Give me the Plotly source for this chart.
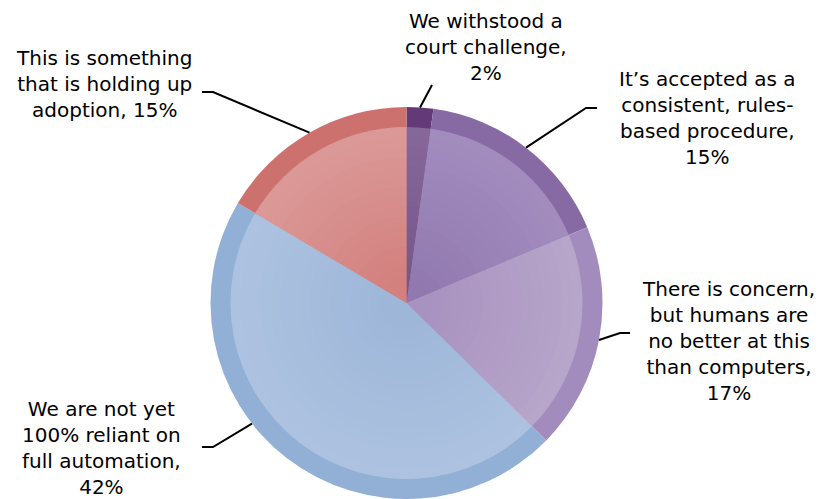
import math
import plotly.graph_objects as go

# Survey answers, clockwise from 12 o'clock
categories = [
    "We withstood a court challenge",
    "It\u2019s accepted as a consistent, rules-based procedure",
    "There is concern, but humans are no better at this than computers",
    "We are not yet 100% reliant on full automation",
    "This is something that is holding up adoption",
]
values = [2, 15, 17, 42, 15]

# Label text, one list of lines per slice
label_lines = [
    ["We withstood a", "court challenge,", "2%"],
    ["It\u2019s accepted as a", "consistent, rules-", "based procedure,", "15%"],
    ["There is concern,", "but humans are", "no better at this", "than computers,", "17%"],
    ["We are not yet", "100% reliant on", "full automation,", "42%"],
    ["This is something", "that is holding up", "adoption, 15%"],
]

rim_colors = ["#633A77", "#8769A3", "#A18CBD", "#92B0D6", "#CD716F"]
# face shading: colour at the face edge and at the centre of each slice
face_edge = ["#86679A", "#A28CBE", "#B7A5CA", "#ADC2E0", "#DA9997"]
face_core = ["#775788", "#9179AF", "#A892BF", "#9EB7D9", "#D3807E"]

W, H = 822, 499
CX, CY = 406.5, 303.0      # pie centre in pixels
R_OUT, R_IN = 196.0, 176.0
N_SHADES = 16


def px(x):
    return x / W


def py(y):
    return 1 - y / H


def hex_rgb(h):
    return tuple(int(h[i:i + 2], 16) for i in (1, 3, 5))


def mix(a, b, t):
    ra, rb = hex_rgb(a), hex_rgb(b)
    return "rgb({},{},{})".format(*[round(x + (y - x) * t) for x, y in zip(ra, rb)])


def pie_layer(colors, r):
    return go.Pie(
        labels=categories, values=values, sort=False, direction="clockwise",
        rotation=0, marker=dict(colors=colors, line=dict(width=0)),
        textinfo="none", hoverinfo="skip", showlegend=False,
        domain=dict(x=[px(CX - r), px(CX + r)], y=[max(0.0, py(CY + r)), py(CY - r)]),
    )


fig = go.Figure()

# darker rim (full disc), then lighter face discs shading toward the centre
fig.add_trace(pie_layer(rim_colors, R_OUT))
for j in range(N_SHADES):
    t = j / (N_SHADES - 1)
    r = R_IN * (1 - 0.85 * t)
    fig.add_trace(pie_layer([mix(e, c, t) for e, c in zip(face_edge, face_core)], r))

# leader lines: anchor on the rim inside each slice, then an elbow toward the label
anchor_frac = [0.5, 0.5, 0.5, 0.587, 0.5]
elbows = [(432, 85), (586, 108), (620, 333), (213, 447), (213, 92)]
ends = [None, (597, 108), (630, 333), (202, 447), (202, 92)]

total = sum(values)
cum = 0
for i, v in enumerate(values):
    theta = 2 * math.pi * (cum + anchor_frac[i] * v) / total
    cum += v
    ax = CX + R_OUT * math.sin(theta)
    ay = CY - R_OUT * math.cos(theta)
    pts = [(ax, ay), elbows[i]] + ([ends[i]] if ends[i] else [])
    path = "M " + " L ".join(f"{px(x):.5f},{py(y):.5f}" for x, y in pts)
    fig.add_shape(type="path", path=path, xref="paper", yref="paper",
                  line=dict(color="black", width=2))

# label blocks: centre x and centre y (pixels)
label_pos = [(486, 47), (707, 118), (728, 341), (101, 448), (104, 84)]
for lines, (lx, ly) in zip(label_lines, label_pos):
    fig.add_annotation(text="<br>".join(lines), x=px(lx), y=py(ly), xref="paper", yref="paper",
                       xanchor="center", yanchor="middle", align="center", showarrow=False,
                       font=dict(family="DejaVu Sans", size=20, color="#000000"))

fig.update_layout(width=W, height=H, margin=dict(l=0, r=0, t=0, b=0),
                  paper_bgcolor="white", plot_bgcolor="white")

fig.write_html("out.html")
